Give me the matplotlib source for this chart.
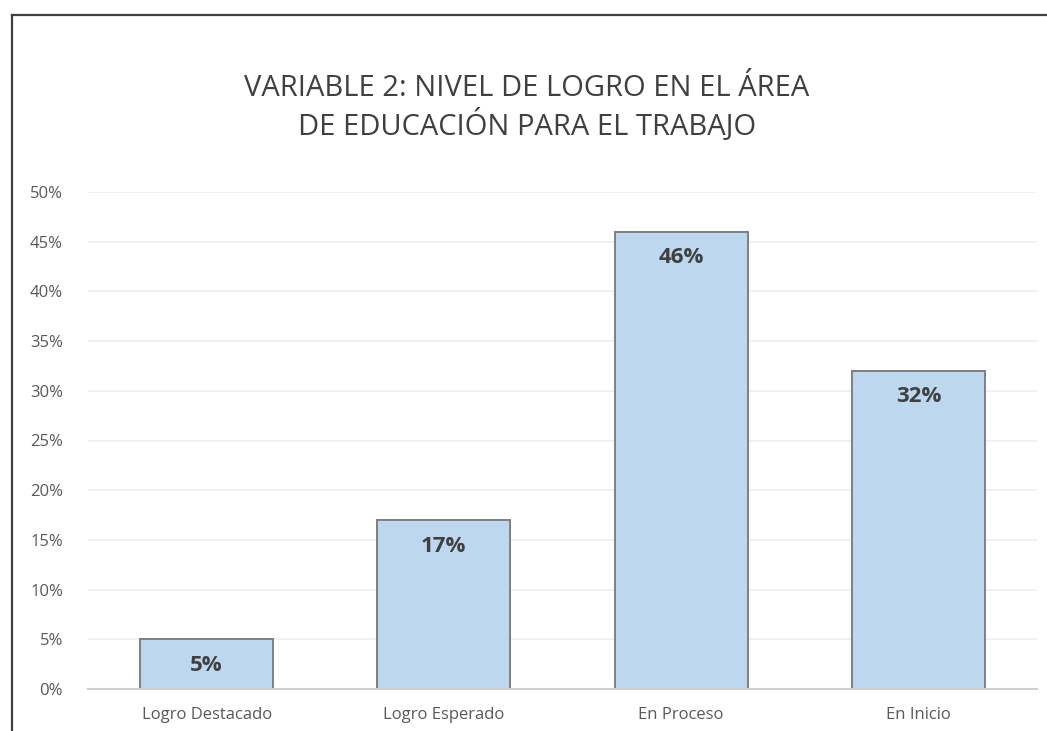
import matplotlib
matplotlib.use("Agg")
import matplotlib.pyplot as plt
from matplotlib.lines import Line2D
from matplotlib.ticker import PercentFormatter, MultipleLocator

categories = ["Logro Destacado", "Logro Esperado", "En Proceso", "En Inicio"]
values = [5, 17, 46, 32]
value_labels = ["5%", "17%", "46%", "32%"]
title = "VARIABLE 2: NIVEL DE LOGRO EN EL ÁREA\nDE EDUCACIÓN PARA EL TRABAJO"

W, H = 1047, 731
fig = plt.figure(figsize=(W / 100, H / 100), dpi=100)
fig.patch.set_facecolor("white")

# outer frame (top and left only)
fig.add_artist(Line2D([12 / W, 1.0], [1 - 15 / H, 1 - 15 / H], color="#404040", lw=1.6, transform=fig.transFigure))
fig.add_artist(Line2D([12 / W, 12 / W], [0, 1 - 15 / H], color="#404040", lw=1.6, transform=fig.transFigure))

ax = fig.add_axes([88 / W, 1 - 689 / H, (1037 - 88) / W, (689 - 192) / H])
ax.bar(range(len(categories)), values, width=0.56, color="#BDD7EE", edgecolor="#7F7F7F", linewidth=1.4, zorder=3)
ax.set_xlim(-0.5, len(categories) - 0.5)
ax.set_ylim(0, 50)
ax.yaxis.set_major_locator(MultipleLocator(5))
ax.yaxis.set_major_formatter(PercentFormatter(decimals=0))
ax.grid(axis="y", color="#EFEFEF", lw=1.2, zorder=0)
for s in ["top", "right", "left"]:
    ax.spines[s].set_visible(False)
ax.spines["bottom"].set_color("#D0D0D0")
ax.spines["bottom"].set_linewidth(1.5)
ax.spines["bottom"].set_zorder(4)
ax.tick_params(axis="both", length=0, colors="#595959")
ax.tick_params(axis="y", pad=18)
ax.tick_params(axis="x", pad=13)
ax.set_xticks(range(len(categories)))
ax.set_xticklabels(categories, fontfamily="Open Sans", fontsize=12)
for lbl in ax.get_yticklabels():
    lbl.set_fontfamily("Open Sans")
    lbl.set_fontsize(12)
    lbl.set_horizontalalignment("right")

for i, (v, t) in enumerate(zip(values, value_labels)):
    ax.annotate(t, xy=(i, v), xytext=(0, -26), textcoords="offset pixels",
                ha="center", va="center", fontsize=16, fontweight="bold",
                color="#404040", fontfamily="Open Sans", zorder=5)

fig.text(527 / W, 1 - 108 / H, title, ha="center", va="center", fontsize=21,
         color="#404040", fontfamily="Open Sans", linespacing=1.25)

fig.savefig("out.png", dpi=100, facecolor="white")
